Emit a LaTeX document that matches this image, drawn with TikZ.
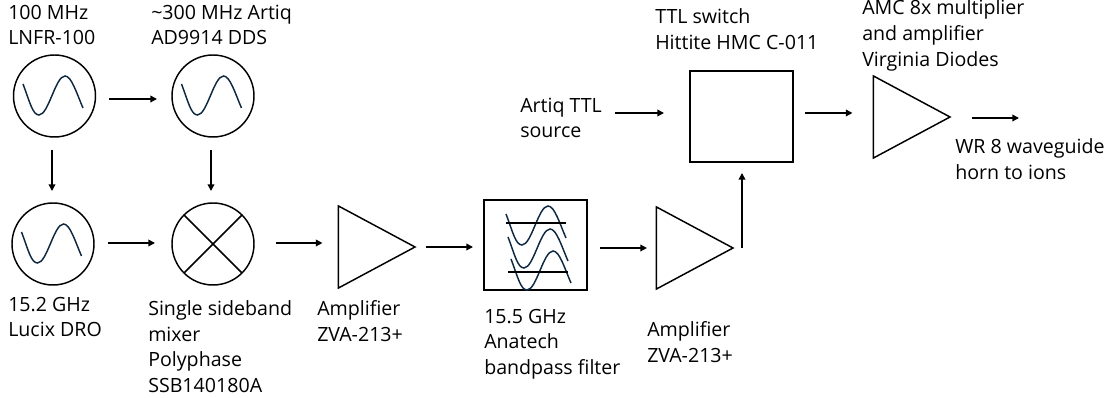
\documentclass[tikz,border=0pt]{standalone}
\usepackage{fontspec}
\setmainfont{Open Sans}
\usetikzlibrary{arrows.meta,shapes.geometric}
\definecolor{wavecolor}{RGB}{14,40,65}
\tikzset{
    sig/.style={line width=1.1pt,-{Triangle[length=5pt,width=5pt]}},
    osc/.style={draw,circle,line width=1.1pt,minimum size=61.5pt,inner sep=0pt,outer sep=0pt},
    box/.style={draw,rectangle,line width=1.1pt,inner sep=0pt,outer sep=0pt},
    amp/.style={draw,isosceles triangle,isosceles triangle stretches,shape border rotate=0,line width=1.1pt,minimum width=61.5pt,minimum height=57.4pt,inner sep=0pt,outer sep=0pt,anchor=apex},
    lab/.style={anchor=west,align=left,inner sep=0pt,font=\fontsize{14.7}{19.2}\selectfont},
    wave/.pic={\draw[wavecolor,line width=1.1pt] (-31.5,12) .. controls (-25,-5) and (-22,-19) .. (-15.5,-19) .. controls (-6,-19) and (1,20) .. (10.5,20) .. controls (17,20) and (22,3) .. (28.5,-12);}
}
\begin{document}
\begin{tikzpicture}[x=0.75pt,y=0.75pt,yscale=-1,xscale=1]
    \useasboundingbox (0,0) rectangle (1111,398);

    % Sources and mixer
    \node[osc] (osca) at (54.5,96) {};
    \node[osc] (oscb) at (213,96) {};
    \node[osc] (oscc) at (53,244) {};
    \node[osc] (mix) at (213,244) {};
    \foreach \c in {osca,oscb,oscc} \path (\c) pic {wave};
    \draw[line width=1.1pt] (mix.45) -- (mix.225) (mix.135) -- (mix.315);

    % Amplifiers, filter and switch
    \node[amp] (ampa) at (415,247) {};
    \node[box,minimum width=77.25pt,minimum height=67.5pt] (filter) at (535.5,245) {};
    \node[amp] (ampb) at (733,248) {};
    \node[box,minimum width=77.25pt,minimum height=68.25pt] (switch) at (741.5,116.5) {};
    \node[amp] (ampc) at (950,117) {};

    % Filter symbol
    \path (537.5,226) pic {wave} (539.5,249) pic {wave} (542.5,271) pic {wave};
    \draw[line width=1.1pt] (506,223) -- (566,223) (508,272) -- (568,272);

    % Text Node
    \node[lab] (labosca) at (8,25) {100 MHz\\LNFR-100};
    \node[lab] (laboscb) at (151,25) {\textasciitilde300 MHz Artiq\\AD9914 DDS};
    \node[lab] (laboscc) at (8,317) {15.2 GHz\\Lucix DRO};
    \node[lab] (labmix) at (148,346.5) {Single sideband\\mixer\\Polyphase\\SSB140180A};
    \node[lab] (labampa) at (317,321) {Amplifier\\ZVA-213+};
    \node[lab] (labfilter) at (484,344) {15.5 GHz\\Anatech\\bandpass filter};
    \node[lab] (labampb) at (647,342) {Amplifier\\ZVA-213+};
    \node[lab] (artiq) at (520,118) {Artiq TTL\\source};
    \node[lab] (labswitch) at (655,29) {TTL switch\\Hittite HMC C-011};
    \node[lab] (labampc) at (862,35.5) {AMC 8x multiplier\\and amplifier\\Virginia Diodes};
    \node[lab] (horn) at (955,159) {WR 8 waveguide\\horn to ions};
    \coordinate (hornend) at (1019,118);

    % Connection
    \draw[sig] ([shift={(13.5,3)}]osca.east) -- ([shift={(-15,3)}]oscb.west);
    \draw[sig] ([shift={(-2.5,13)}]osca.south) -- ([shift={(-1,-12)}]oscc.north);
    \draw[sig] ([shift={(-2,13)}]oscb.south) -- ([shift={(-2,-12)}]mix.north);
    \draw[sig] ([shift={(14,-1)}]oscc.east) -- ([shift={(-17,-1)}]mix.west);
    \draw[sig] ([shift={(22,-1)}]mix.east) -- ([shift={(-16,-4)}]ampa.lower side);
    \draw[sig] ([shift={(11,0)}]ampa.apex) -- ([shift={(-11,2)}]filter.west);
    \draw[sig] ([shift={(13,3)}]filter.east) -- ([shift={(-9.5,0)}]ampb.lower side);
    \draw[sig] ([shift={(9,0)}]ampb.apex) -- ([shift={(0.5,11)}]switch.south);
    \draw[sig] ([shift={(95,-5)}]artiq.west) -- ([shift={(-26,-3.5)}]switch.west);
    \draw[sig] ([shift={(12,-3.5)}]switch.east) -- ([shift={(-21,-4)}]ampc.lower side);
    \draw[sig] ([shift={(22,1)}]ampc.apex) -- (hornend);
\end{tikzpicture}
\end{document}
